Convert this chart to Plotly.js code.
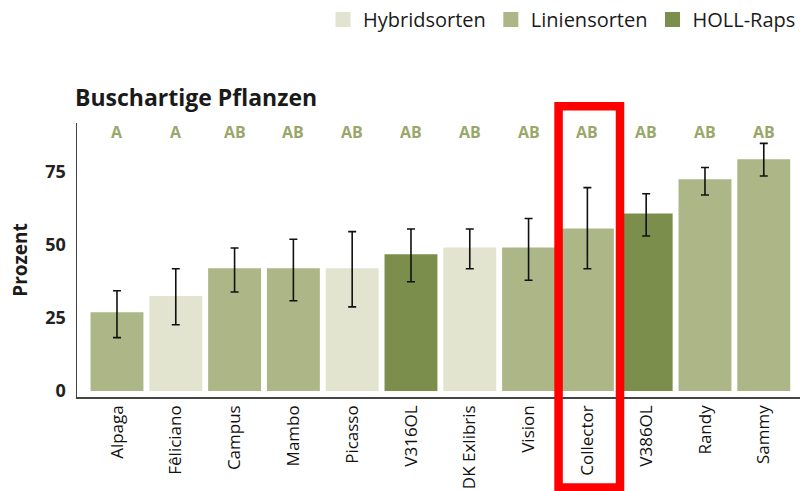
<!DOCTYPE html>
<html>
<head>
<meta charset="utf-8">
<script src="https://cdn.plot.ly/plotly-3.0.1.min.js"></script>
<style>html,body{margin:0;padding:0;background:#fff;}#chart{width:801px;height:491px;}</style>
</head>
<body>
<div id="chart"></div>
<script>
// ---- data ----
const categories = ["Alpaga","Fêliciano","Campus","Mambo","Picasso","V316OL","DK Exlibris","Vision","Collector","V386OL","Randy","Sammy"];
const groups     = ["Liniensorten","Hybridsorten","Liniensorten","Liniensorten","Hybridsorten","HOLL-Raps","Hybridsorten","Liniensorten","Liniensorten","HOLL-Raps","Liniensorten","Liniensorten"];
const values     = [26.9, 32.4, 41.9, 41.9, 41.9, 46.7, 49.0, 49.0, 55.5, 60.6, 72.3, 79.1];
const errHigh    = [34.2, 41.7, 48.8, 51.8, 54.4, 55.3, 55.3, 58.9, 69.4, 67.3, 76.3, 84.5];
const errLow     = [18.2, 22.6, 33.8, 30.8, 28.7, 37.3, 41.7, 37.8, 41.7, 52.9, 66.9, 73.4];
const letters    = ["A","A","AB","AB","AB","AB","AB","AB","AB","AB","AB","AB"];
const groupNames = ["Hybridsorten","Liniensorten","HOLL-Raps"];
const groupColors = {"Hybridsorten":"#e2e4d0","Liniensorten":"#adb686","HOLL-Raps":"#7b8e4c"};
const highlighted = "Collector";
const yTicks = [0,25,50,75];
const letterLevel = 88.4;

const FONT = "'Open Sans', 'Noto Sans', sans-serif";

const barTraces = groupNames.map(g => {
  const idx = categories.map((c,i)=>i).filter(i => groups[i] === g);
  return {
    type: "bar",
    name: g,
    showlegend: false,
    x: idx.map(i => categories[i]),
    y: idx.map(i => values[i]),
    marker: {color: groupColors[g], line: {width: 0}},
    error_y: {
      type: "data", symmetric: false,
      array: idx.map(i => errHigh[i] - values[i]),
      arrayminus: idx.map(i => values[i] - errLow[i]),
      color: "#111", thickness: 1.6, width: 4
    },
    hoverinfo: "x+y"
  };
});

// legend entries (square swatches)
const legendTraces = groupNames.map(g => ({
  type: "scatter", mode: "markers", name: g,
  x: [null], y: [null],
  marker: {symbol: "square", size: 15, color: groupColors[g]},
  showlegend: true, hoverinfo: "skip"
}));

const annotations = categories.map((c,i) => ({
  x: c, y: letterLevel, xref: "x", yref: "y",
  text: letters[i], showarrow: false,
  font: {family: FONT, size: 16, color: "#9aa66c", weight: "bold"},
  xanchor: "center", yanchor: "middle"
}));

const hi = categories.indexOf(highlighted);

const layout = {
  width: 801, height: 491,
  margin: {l: 77, r: 1, t: 123, b: 94},
  paper_bgcolor: "#fff", plot_bgcolor: "#fff",
  font: {family: FONT, color: "#1a1a1a"},
  barmode: "overlay",
  bargap: 0.1,
  showlegend: true,
  legend: {
    orientation: "h", xref: "container", yref: "container",
    x: 1.0, xanchor: "right", y: 1.0, yanchor: "top",
    font: {family: FONT, size: 20, color: "#1a1a1a"},
    traceorder: "normal", itemwidth: 30, itemsizing: "trace"
  },
  title: {
    text: "<b>Buschartige Pflanzen</b>",
    xref: "container", yref: "container",
    x: 75/801, xanchor: "left", y: 1 - 98/491, yanchor: "middle",
    font: {family: FONT, size: 23, color: "#1a1a1a"}
  },
  xaxis: {
    type: "category", categoryorder: "array", categoryarray: categories,
    range: [-0.68, 11.616],
    showline: true, linecolor: "#444", linewidth: 1.5,
    showgrid: false, zeroline: false, ticks: "",
    tickangle: -90,
    tickfont: {family: FONT, size: 17, color: "#111"},
    fixedrange: true
  },
  yaxis: {
    range: [-2.05, 91.47],
    tickvals: yTicks, ticktext: yTicks.map(String),
    showline: true, linecolor: "#444", linewidth: 1.5,
    showgrid: false, zeroline: false, ticks: "",
    ticklabelstandoff: 6,
    tickfont: {family: FONT, size: 18, color: "#222", weight: "bold"},
    title: {text: "<b>Prozent</b>", standoff: 12, font: {family: FONT, size: 19, color: "#1a1a1a"}},
    automargin: false,
    fixedrange: true
  },
  annotations: annotations,
  shapes: [{
    type: "rect", xref: "x", yref: "paper",
    x0: hi - 0.49, x1: hi + 0.555, y0: -0.33, y1: 1.061,
    line: {color: "#ff0000", width: 8.5}, fillcolor: "rgba(0,0,0,0)", layer: "above"
  }]
};

Plotly.newPlot("chart", barTraces.concat(legendTraces), layout, {displayModeBar: false, staticPlot: true});
</script>
</body>
</html>
